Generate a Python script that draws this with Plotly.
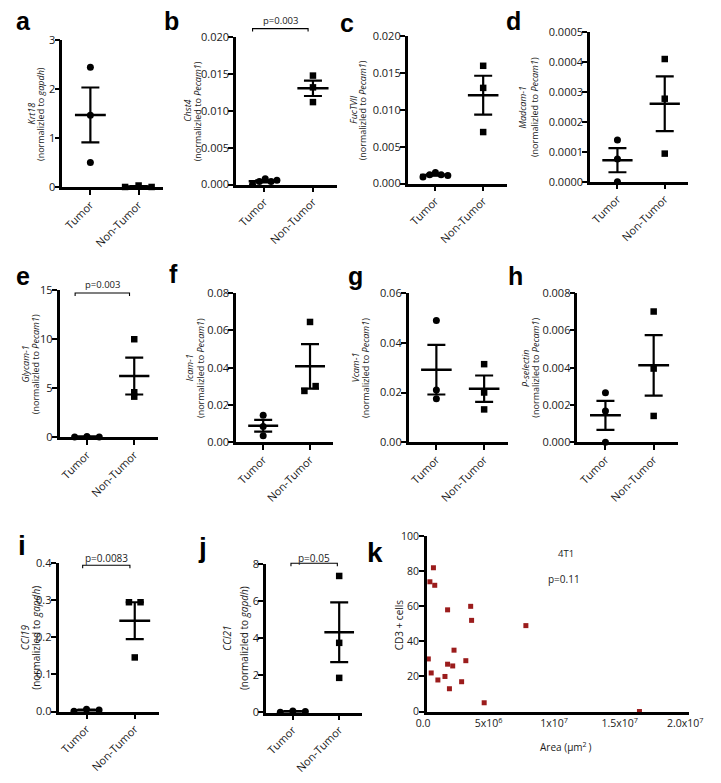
import plotly.graph_objects as go
import numpy as np

# page body keeps its default 8px margin, so the figure is sized to fill the
# 721x783 window exactly and reference pixel positions are offset by 8px
OFF = 8
FW, FH = 705, 767

categories = ["Tumor", "Non-Tumor"]

# ---- data ----
krt18_tumor = [2.45, 1.47, 0.51]
krt18_nontumor = [0.01, 0.04, 0.01]
chst4_tumor = [0.0000, 0.0004, 0.0008, 0.0004, 0.0006]
chst4_nontumor = [0.0148, 0.0132, 0.0112]
fuctvii_tumor = [0.0009, 0.0012, 0.0015, 0.0012, 0.0011]
fuctvii_nontumor = [0.0160, 0.0130, 0.0070]
madcam_tumor = [0.000140, 0.000076, 0.0]
madcam_nontumor = [0.000411, 0.000278, 0.000094]
glycam_tumor = [0.05, 0.08, 0.05]
glycam_nontumor = [10.0, 4.6, 4.15]
icam_tumor = [0.0145, 0.0085, 0.0035]
icam_nontumor = [0.0645, 0.0275, 0.0301]
vcam_tumor = [0.049, 0.021, 0.0175]
vcam_nontumor = [0.0314, 0.0200, 0.0132]
psel_tumor = [0.00266, 0.00167, 0.0]
psel_nontumor = [0.00701, 0.00395, 0.00141]
ccl19_tumor = [0.001, 0.006, 0.004]
ccl19_nontumor = [0.295, 0.295, 0.146]
ccl21_tumor = [0.02, 0.08, 0.06]
ccl21_nontumor = [7.37, 3.76, 1.87]

area_4t1 = [0.49e6, 0.22e6, 0.59e6, 1.57e6, 3.33e6, 3.40e6, 7.54e6, 2.06e6, 0.10e6, 2.96e6,
            1.57e6, 1.96e6, 0.32e6, 1.37e6, 0.83e6, 2.64e6, 1.71e6, 4.36e6, 16.2e6]
cd3_cells = [82, 74, 72, 58, 60, 52, 49, 35, 30, 29, 27, 26, 22, 20, 18, 17, 13, 5, 0]

k_xticks = [0, 5e6, 1e7, 1.5e7, 2e7]
k_xticktext = ["0.0", "5x10<sup>6</sup>", "1x10<sup>7</sup>", "1.5x10<sup>7</sup>", "2.0x10<sup>7</sup>"]

# ---- layout configuration (positions in reference pixels) ----
panels = [
    dict(letter="a", gene="Krt18", norm="gapdh", t=krt18_tumor, n=krt18_nontumor,
         box=(53, 157, 33, 185), top=3, dt=1, fmt="d",
         jt=[0, 0, 0], jn=[-0.28, 0, 0.27], lpos=(3, 13), lsize=25, tx=(21, 31), tfs=9),
    dict(letter="b", gene="Chst4", norm="Pecam1", t=chst4_tumor, n=chst4_nontumor,
         box=(233, 338, 30, 182), top=0.020, dt=0.005, fmt=".3f",
         jt=[-0.24, -0.1, 0.02, 0.14, 0.26], jn=[0, 0, 0], lpos=(156, 13), lsize=25, tx=(183, 194), tfs=9,
         p=("p=0.003", -0.24, 0.9, 21, 12.5, 9.5)),
    dict(letter="c", gene="FucTVII", norm="Pecam1", t=fuctvii_tumor, n=fuctvii_nontumor,
         box=(411, 514, 29, 181), top=0.020, dt=0.005, fmt=".3f",
         jt=[-0.26, -0.12, 0, 0.12, 0.26], jn=[0, 0, 0], lpos=(339, 15), lsize=25, tx=(355, 365), tfs=9),
    dict(letter="d", gene="Madcam-1", norm="Pecam1", t=madcam_tumor, n=madcam_nontumor,
         box=(600, 702, 25, 179), top=0.0005, dt=0.0001, fmt=".4f",
         jt=[0, 0, 0], jn=[0, 0, 0], lpos=(511, 13), lsize=25, tx=(530, 542), tfs=9),
    dict(letter="e", gene="Glycam-1", norm="Pecam1", t=glycam_tumor, n=glycam_nontumor,
         box=(50, 152, 291, 443), top=15, dt=5, fmt="d",
         jt=[-0.26, 0, 0.26], jn=[0, 0, 0], lpos=(3, 276), lsize=25, tx=(15, 25), tfs=9,
         p=("p=0.003", -0.25, 0.9, 294, 285, 9.5)),
    dict(letter="f", gene="Icam-1", norm="Pecam1", t=icam_tumor, n=icam_nontumor,
         box=(233, 334, 294, 448), top=0.08, dt=0.02, fmt=".2f",
         jt=[0, 0, 0], jn=[0, -0.12, 0.12], lpos=(161, 274), lsize=25, tx=(185, 196), tfs=9),
    dict(letter="g", gene="Vcam-1", norm="Pecam1", t=vcam_tumor, n=vcam_nontumor,
         box=(412, 515, 294, 448), top=0.06, dt=0.02, fmt=".2f",
         jt=[0, 0, 0], jn=[0, 0, 0], lpos=(347, 276), lsize=25, tx=(357, 367), tfs=9),
    dict(letter="h", gene="P-selectin", norm="Pecam1", t=psel_tumor, n=psel_nontumor,
         box=(587, 691, 294, 448), top=0.008, dt=0.002, fmt=".3f",
         jt=[0, 0, 0], jn=[0, 0, 0], lpos=(513, 276), lsize=25, tx=(533, 544), tfs=9),
    dict(letter="i", gene="CCl19", norm="gapdh", t=ccl19_tumor, n=ccl19_nontumor,
         box=(49, 153, 573, 726), top=0.4, dt=0.1, fmt=".1f",
         jt=[-0.26, 0, 0.26], jn=[-0.12, 0.12, 0], lpos=(5, 555), lsize=28, tx=(15, 26), tfs=10,
         p=("p=0.0083", -0.08, 0.9, 575, 568, 10)),
    dict(letter="j", gene="CCl21", norm="gapdh", t=ccl21_tumor, n=ccl21_nontumor,
         box=(264, 364, 574, 727), top=8, dt=2, fmt="d",
         jt=[-0.27, 0, 0.27], jn=[0, 0, 0], lpos=(191, 557), lsize=28, tx=(224, 242), tfs=10,
         p=("p=0.05", -0.04, 0.96, 573, 567, 10)),
]

TICKFONT = dict(family="Open Sans", size=11, color="#1a1a1a")
XR = [-0.58, 1.5]
HALF = 0.32

def px_x(x):
    return (x - OFF) / FW

def px_y(y):
    return 1 - (y - OFF) / FH

fig = go.Figure()
annotations = []
shapes = []
layout = {}

for idx, p in enumerate(panels, start=1):
    sfx = "" if idx == 1 else str(idx)
    xa, ya = "x" + sfx, "y" + sfx
    xl, xr, yt, yb = p["box"]
    t = np.array(p["t"])
    n = np.array(p["n"])
    means = [t.mean(), n.mean()]
    sems = [t.std(ddof=1) / np.sqrt(len(t)), n.std(ddof=1) / np.sqrt(len(n))]

    for c, m in enumerate(means):
        fig.add_trace(go.Scatter(x=[c - HALF, c + HALF], y=[m, m], mode="lines",
                                 line=dict(color="black", width=2.5), xaxis=xa, yaxis=ya,
                                 showlegend=False, hoverinfo="skip", cliponaxis=False))
    fig.add_trace(go.Scatter(x=[0, 1], y=means, mode="markers",
                             marker=dict(size=1, color="rgba(0,0,0,0)"),
                             error_y=dict(type="data", array=sems, visible=True, color="black",
                                          thickness=2.2, width=9),
                             xaxis=xa, yaxis=ya, showlegend=False, hoverinfo="skip", cliponaxis=False))
    fig.add_trace(go.Scatter(x=[0 + j for j in p["jt"]], y=p["t"], mode="markers",
                             marker=dict(symbol="circle", size=7, color="black"),
                             xaxis=xa, yaxis=ya, showlegend=False, cliponaxis=False))
    fig.add_trace(go.Scatter(x=[1 + j for j in p["jn"]], y=p["n"], mode="markers",
                             marker=dict(symbol="square", size=6.5, color="black"),
                             xaxis=xa, yaxis=ya, showlegend=False, cliponaxis=False))

    nt = int(round(p["top"] / p["dt"]))
    tv = [p["dt"] * i for i in range(nt + 1)]
    if p["fmt"] == "d":
        tt = [str(int(round(v))) for v in tv]
    else:
        tt = [format(v, p["fmt"]) for v in tv]

    layout["xaxis" + sfx] = dict(domain=[px_x(xl), px_x(xr)], range=XR, anchor=ya,
                                 tickvals=[0, 1], ticktext=categories, tickangle=-45,
                                 ticklabelstandoff=-1,
                                 showline=True, linewidth=2.6, linecolor="black",
                                 ticks="outside", ticklen=5, tickwidth=2.4, tickcolor="black",
                                 showgrid=False, zeroline=False, tickfont=TICKFONT)
    layout["yaxis" + sfx] = dict(domain=[px_y(yb), px_y(yt)], range=[0, p["top"]], anchor=xa,
                                 tickvals=tv, ticktext=tt, ticklabelstandoff=-3,
                                 showline=True, linewidth=2.6, linecolor="black",
                                 ticks="outside", ticklen=5, tickwidth=2.4, tickcolor="black",
                                 showgrid=False, zeroline=False, tickfont=TICKFONT)

    ymid = px_y((yt + yb) / 2)
    tf = dict(family="Open Sans", size=p["tfs"], color="#1a1a1a")
    annotations.append(dict(text="<i>%s</i>" % p["gene"], x=px_x(p["tx"][0]), y=ymid,
                            xref="paper", yref="paper", textangle=-90, showarrow=False,
                            xanchor="center", yanchor="middle", font=tf))
    annotations.append(dict(text="(normalizled to <i>%s</i>)" % p["norm"], x=px_x(p["tx"][1]), y=ymid,
                            xref="paper", yref="paper", textangle=-90, showarrow=False,
                            xanchor="center", yanchor="middle", font=tf))
    annotations.append(dict(text="<b>%s</b>" % p["letter"], x=px_x(p["lpos"][0]), y=px_y(p["lpos"][1]),
                            xref="paper", yref="paper", showarrow=False, xanchor="left", yanchor="middle",
                            font=dict(family="Liberation Sans", size=p["lsize"], color="black")))
    if "p" in p:
        ptxt, bx0, bx1, by, ty, fs = p["p"]
        x0 = xl + (bx0 - XR[0]) / (XR[1] - XR[0]) * (xr - xl)
        x1 = xl + (bx1 - XR[0]) / (XR[1] - XR[0]) * (xr - xl)
        shapes.append(dict(type="path", xref="paper", yref="paper",
                           path="M %f %f L %f %f L %f %f L %f %f" % (
                               px_x(x0), px_y(by + 3), px_x(x0), px_y(by), px_x(x1), px_y(by), px_x(x1), px_y(by + 3)),
                           line=dict(color="black", width=1.1)))
        annotations.append(dict(text=ptxt, x=px_x((x0 + x1) / 2), y=px_y(ty), xref="paper", yref="paper",
                                showarrow=False, xanchor="center", yanchor="middle",
                                font=dict(family="Open Sans", size=fs, color="#1a1a1a")))

# ---- panel k ----
kx, ky = "x11", "y11"
KFONT = dict(family="Open Sans", size=10.5, color="#1a1a1a")
fig.add_trace(go.Scatter(x=area_4t1, y=cd3_cells, mode="markers",
                         marker=dict(symbol="square", size=5, color="#9b1c1c"),
                         xaxis=kx, yaxis=ky, showlegend=False, cliponaxis=False))
layout["xaxis11"] = dict(domain=[px_x(431), px_x(703)], range=[0, 2.0005e7], anchor=ky,
                         tickvals=k_xticks, ticktext=k_xticktext, ticks="",
                         ticklabeloverflow="allow", ticklabelshift=-4,
                         showline=True, linewidth=2.6, linecolor="black",
                         showgrid=False, zeroline=False, tickfont=KFONT)
layout["yaxis11"] = dict(domain=[px_y(726), px_y(545)], range=[0, 100], anchor=kx,
                         tickvals=[0, 20, 40, 60, 80, 100], ticklabelstandoff=-2,
                         showline=True, linewidth=2.6, linecolor="black",
                         ticks="outside", ticklen=5, tickwidth=2.4, tickcolor="black",
                         showgrid=False, zeroline=False, tickfont=KFONT)
annotations += [
    dict(text="<b>k</b>", x=px_x(367), y=px_y(562), xref="paper", yref="paper", showarrow=False,
         xanchor="left", yanchor="middle", font=dict(family="Liberation Sans", size=28, color="black")),
    dict(text="CD3 + cells", x=px_x(402), y=px_y(637), xref="paper", yref="paper", showarrow=False,
         textangle=-90, xanchor="center", yanchor="middle",
         font=dict(family="Open Sans", size=10, color="#1a1a1a")),
    dict(text="Area (µm<sup>2 </sup>)", x=px_x(575), y=px_y(763), xref="paper", yref="paper",
         showarrow=False, xanchor="center", yanchor="middle",
         font=dict(family="Open Sans", size=10, color="#1a1a1a")),
    dict(text="4T1", x=px_x(575), y=px_y(563), xref="paper", yref="paper", showarrow=False,
         xanchor="center", yanchor="middle", font=dict(family="Open Sans", size=9.5, color="#1a1a1a")),
    dict(text="p=0.11", x=px_x(573), y=px_y(589), xref="paper", yref="paper", showarrow=False,
         xanchor="center", yanchor="middle", font=dict(family="Open Sans", size=10, color="#1a1a1a")),
]

fig.update_layout(width=FW, height=FH, margin=dict(l=0, r=0, t=0, b=0),
                  paper_bgcolor="white", plot_bgcolor="white",
                  annotations=annotations, shapes=shapes, showlegend=False, **layout)

fig.write_html("out.html", config={"displayModeBar": False})
